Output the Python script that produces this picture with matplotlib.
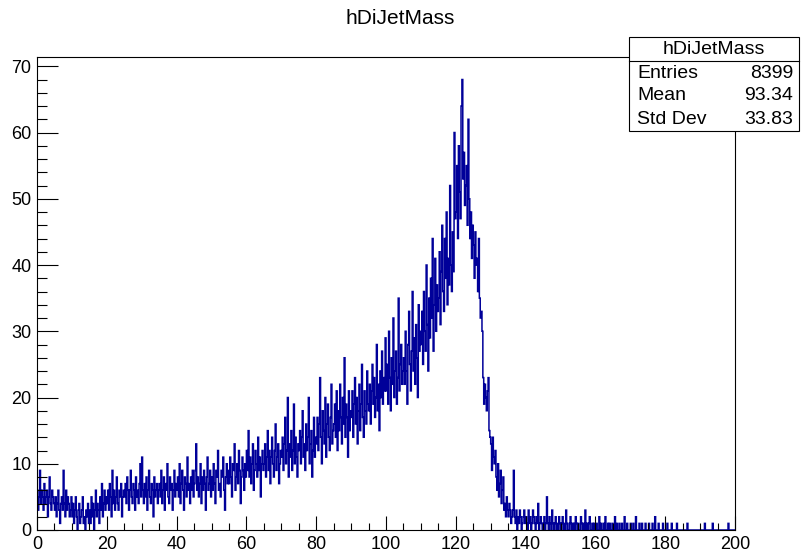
import numpy as np
import matplotlib
matplotlib.use("Agg")
import matplotlib.pyplot as plt
from matplotlib.patches import Rectangle
from matplotlib.lines import Line2D
from matplotlib.ticker import MultipleLocator

plt.rcParams['font.family'] = ['Liberation Sans', 'DejaVu Sans']

title = "hDiJetMass"
x_min, x_max, n_bins = 0.0, 200.0, 800
stat_names = ["Entries", "Mean", "Std Dev"]
stat_values = ["8399", "93.34", "33.83"]

counts_000_020 = [
    6, 3, 5, 9, 4, 6, 5, 3, 7, 4, 5, 6, 2, 5, 8, 4, 3, 6, 5, 4,
    3, 5, 2, 4, 6, 3, 1, 4, 5, 3, 9, 4, 2, 6, 3, 5, 4, 2, 3, 5,
    2, 4, 1, 3, 5, 2, 0, 3, 4, 1, 2, 3, 5, 1, 2, 0, 3, 2, 4, 1,
    3, 1, 5, 2, 4, 0, 3, 6, 2, 4, 3, 1, 5, 3, 7, 2, 4, 6, 3, 5]
counts_020_040 = [
    4, 6, 3, 7, 5, 2, 9, 4, 6, 3, 5, 8, 4, 3, 6, 5, 7, 2, 5, 6,
    5, 7, 4, 8, 6, 3, 6, 9, 5, 4, 7, 6, 3, 8, 5, 6, 4, 7, 10, 5,
    11, 6, 4, 7, 5, 8, 3, 6, 9, 5, 4, 7, 6, 2, 8, 5, 6, 7, 4, 6,
    7, 5, 9, 4, 6, 8, 3, 7, 6, 10, 5, 4, 8, 6, 7, 3, 6, 9, 5, 7]
counts_040_060 = [
    6, 8, 5, 10, 4, 7, 9, 6, 3, 8, 7, 5, 11, 6, 7, 4, 8, 6, 9, 5,
    7, 9, 13, 6, 8, 5, 7, 10, 4, 8, 6, 9, 7, 3, 8, 11, 6, 7, 9, 5,
    8, 6, 10, 7, 4, 9, 8, 12, 6, 7, 5, 9, 8, 11, 6, 3, 8, 10, 7, 9,
    7, 11, 8, 5, 10, 9, 13, 6, 8, 10, 7, 12, 9, 4, 8, 11, 9, 6, 10, 8]
counts_060_080 = [
    12, 9, 15, 8, 11, 7, 10, 13, 6, 9, 12, 10, 8, 14, 9, 11, 5, 10, 12, 9,
    10, 13, 8, 11, 15, 9, 12, 7, 11, 14, 10, 8, 12, 16, 9, 11, 13, 7, 10, 12,
    11, 14, 9, 13, 17, 10, 12, 20, 8, 13, 11, 15, 9, 12, 19, 10, 14, 11, 8, 13,
    12, 15, 10, 14, 18, 11, 13, 9, 16, 12, 14, 20, 10, 13, 15, 8, 12, 17, 11, 14]
counts_080_100 = [
    13, 17, 12, 16, 23, 14, 10, 18, 15, 13, 20, 11, 16, 19, 14, 12, 17, 22, 13, 15,
    16, 19, 14, 21, 12, 18, 15, 22, 17, 13, 20, 16, 26, 14, 19, 17, 11, 21, 15, 18,
    17, 21, 14, 19, 23, 16, 20, 13, 18, 22, 15, 19, 25, 17, 14, 21, 18, 16, 24, 19,
    18, 22, 16, 21, 25, 19, 23, 17, 20, 28, 18, 22, 15, 24, 20, 27, 19, 23, 21, 29]
counts_100_120 = [
    21, 25, 19, 30, 23, 18, 26, 22, 32, 20, 24, 27, 19, 23, 35, 21, 25, 28, 22, 24,
    26, 22, 30, 24, 19, 28, 33, 25, 21, 27, 36, 24, 29, 22, 31, 26, 20, 34, 27, 30,
    28, 33, 25, 36, 30, 27, 40, 31, 24, 35, 29, 38, 32, 44, 27, 34, 41, 30, 37, 33,
    35, 42, 31, 39, 46, 36, 33, 44, 38, 48, 34, 41, 37, 52, 40, 36, 45, 39, 60, 47]
counts_120_140 = [
    48, 55, 44, 58, 51, 47, 64, 68, 53, 57, 49, 52, 55, 46, 62, 50, 44, 48, 41, 46,
    43, 38, 45, 40, 41, 36, 44, 35, 32, 33, 30, 23, 19, 22, 20, 18, 21, 23, 15, 14,
    13, 9, 14, 11, 10, 12, 8, 6, 10, 5, 7, 9, 4, 6, 8, 3, 4, 2, 5, 3,
    2, 4, 3, 1, 2, 3, 9, 2, 1, 3, 0, 2, 1, 3, 2, 0, 1, 2, 3, 1]
counts_140_160 = [
    2, 1, 0, 3, 1, 2, 0, 1, 3, 2, 1, 0, 2, 1, 4, 0, 1, 2, 1, 0,
    1, 2, 0, 1, 5, 1, 0, 2, 1, 0, 3, 1, 0, 1, 2, 0, 1, 0, 2, 1,
    0, 1, 2, 0, 1, 0, 3, 1, 0, 0, 1, 2, 0, 1, 0, 1, 0, 2, 1, 0,
    1, 0, 0, 2, 1, 0, 1, 0, 3, 0, 1, 0, 1, 2, 0, 0, 1, 0, 1, 0]
counts_160_180 = [
    0, 1, 0, 0, 2, 0, 1, 0, 0, 1, 0, 2, 0, 0, 1, 0, 1, 0, 0, 1,
    0, 0, 2, 0, 1, 0, 0, 1, 0, 0, 1, 0, 0, 2, 0, 0, 1, 0, 0, 0,
    1, 0, 0, 1, 0, 0, 2, 0, 0, 0, 1, 0, 0, 1, 0, 0, 0, 1, 0, 0,
    0, 1, 0, 0, 0, 1, 0, 0, 2, 0, 0, 0, 1, 0, 0, 0, 0, 1, 0, 0]
counts_180_200 = [
    0, 0, 1, 0, 0, 0, 0, 1, 0, 0, 0, 0, 0, 1, 0, 0, 0, 0, 0, 0,
    0, 0, 0, 0, 0, 1, 0, 0, 0, 0, 0, 0, 0, 0, 0, 0, 0, 0, 0, 0,
    0, 0, 0, 0, 0, 1, 0, 0, 0, 0, 0, 0, 0, 0, 1, 0, 0, 0, 0, 0,
    0, 0, 0, 0, 0, 0, 0, 0, 0, 0, 0, 0, 1, 0, 0, 0, 0, 0, 0, 0]

counts = np.array(counts_000_020 + counts_020_040 + counts_040_060 + counts_060_080 +
                  counts_080_100 + counts_100_120 + counts_120_140 + counts_140_160 +
                  counts_160_180 + counts_180_200, dtype=float)
edges = np.linspace(x_min, x_max, n_bins + 1)

W, H = 802, 559
fig = plt.figure(figsize=(W / 100, H / 100), dpi=100)
ax = fig.add_axes([37 / W, 1 - 530 / H, (735 - 37) / W, (530 - 57) / H])

ax.stairs(counts, edges, color='#000099', lw=1.1, baseline=0)
ax.set_xlim(x_min, x_max)
ax.set_ylim(0, counts.max() * 1.05)

ax.xaxis.set_major_locator(MultipleLocator(20))
ax.xaxis.set_minor_locator(MultipleLocator(5))
ax.yaxis.set_major_locator(MultipleLocator(10))
ax.yaxis.set_minor_locator(MultipleLocator(2))
ax.tick_params(axis='x', which='major', direction='in', length=10, width=0.8,
               labelsize=13, pad=4, top=False)
ax.tick_params(axis='x', which='minor', direction='in', length=5, width=0.8, top=False)
ax.tick_params(axis='y', which='major', direction='in', length=15, width=0.8,
               labelsize=13, pad=4, right=False)
ax.tick_params(axis='y', which='minor', direction='in', length=7.5, width=0.8, right=False)
for s in ax.spines.values():
    s.set_linewidth(0.8)

fig.text(400 / W, 1 - 18 / H, title, ha='center', va='center', fontsize=15)

# stats box
bx0, bx1, by0, by1, bsep = 629, 799, 37, 131, 61
rect = Rectangle((bx0 / W, 1 - by1 / H), (bx1 - bx0) / W, (by1 - by0) / H,
                 transform=fig.transFigure, facecolor='white', edgecolor='black',
                 lw=0.8, zorder=10)
fig.patches.append(rect)
fig.lines.append(Line2D([bx0 / W, bx1 / W], [1 - bsep / H, 1 - bsep / H],
                        transform=fig.transFigure, color='black', lw=0.8, zorder=11))
fig.text((bx0 + bx1) / 2 / W, 1 - 49 / H, title, ha='center', va='center',
         fontsize=14, zorder=12)
for i, (n, v) in enumerate(zip(stat_names, stat_values)):
    yy = 1 - (73 + 23 * i) / H
    fig.text(637 / W, yy, n, ha='left', va='center', fontsize=14, zorder=12)
    fig.text(793 / W, yy, v, ha='right', va='center', fontsize=14, zorder=12)

fig.savefig("out.png", dpi=100)
